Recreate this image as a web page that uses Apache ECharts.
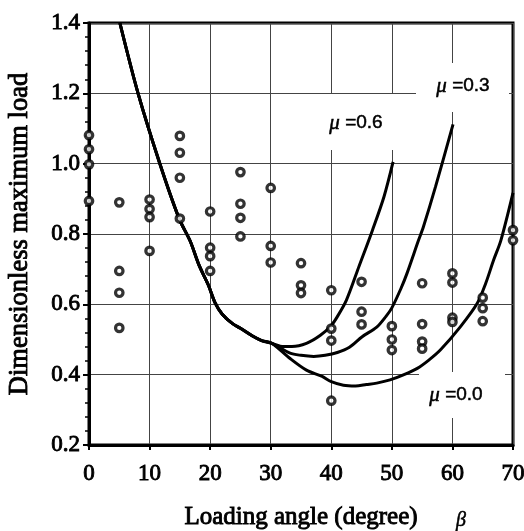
<!DOCTYPE html>
<html>
<head>
<meta charset="utf-8">
<script src="https://cdn.jsdelivr.net/npm/echarts@6/dist/echarts.min.js"></script>
<style>
html,body{margin:0;padding:0;background:#fff;}
#chart{width:524px;height:531px;}
</style>
</head>
<body>
<div id="chart"></div>
<script>
// ---- data ----
const xTickLabels = ['0','10','20','30','40','50','60','70'];
const yTickLabels = ['0.2','0.4','0.6','0.8','1.0','1.2','1.4'];

const obsAngle = [0,0,0,0, 5,5,5,5, 10,10,10,10, 15,15,15,15, 20,20,20,20, 25,25,25,25,
                  30,30,30, 35,35,35, 40,40,40,40, 45,45,45, 50,50,50, 55,55,55,55,
                  60,60,60,60, 65,65,65, 70,70];
const obsLoad  = [1.081,1.041,0.998,0.894, 0.890,0.695,0.633,0.533, 0.898,0.871,0.848,0.752,
                  1.079,1.031,0.960,0.844, 0.864,0.761,0.737,0.695, 0.976,0.886,0.846,0.793,
                  0.931,0.766,0.719, 0.717,0.654,0.632, 0.640,0.531,0.497,0.326,
                  0.664,0.579,0.543, 0.538,0.500,0.470, 0.660,0.544,0.494,0.474,
                  0.688,0.662,0.562,0.550, 0.619,0.589,0.552, 0.811,0.782];

// common branch of all three curves
const sharedAngle = [5.1, 8.1, 11.7, 14.9, 16.7, 18.2, 19.7, 20.8, 22.0, 23.7, 25.0, 27.0, 28.5, 30.2];
const sharedLoad  = [1.40, 1.20, 1.00, 0.843, 0.780, 0.710, 0.655, 0.605, 0.572, 0.545, 0.532, 0.510, 0.497, 0.489];

const mu06Angle = [32.1, 33.5, 35.9, 38.2, 40.0, 41.0, 42.5, 44.6, 46.8, 48.7, 50.2];
const mu06Load  = [0.480, 0.480, 0.489, 0.512, 0.540, 0.565, 0.612, 0.709, 0.811, 0.906, 1.005];

const mu03Angle = [33.2, 35.0, 37.1, 39.0, 41.0, 43.0, 45.1, 47.5, 49.0, 50.0, 51.5, 52.5, 54.4, 55.2, 57.2, 60.1];
const mu03Load  = [0.461, 0.455, 0.452, 0.455, 0.463, 0.478, 0.508, 0.535, 0.565, 0.590, 0.645, 0.688, 0.782, 0.820, 0.934, 1.112];

const mu00Angle = [33.2, 35.9, 38.5, 40.0, 42.0, 44.0, 45.8, 47.5, 49.7, 52.0, 54.2, 56.0, 58.0, 61.3, 64.1, 65.5, 66.8, 68.0, 70.0];
const mu00Load  = [0.446, 0.413, 0.395, 0.380, 0.370, 0.368, 0.372, 0.376, 0.385, 0.400, 0.418, 0.440, 0.470, 0.536, 0.603, 0.660, 0.726, 0.782, 0.917];

const curveNames = ['μ =0.6', 'μ =0.3', 'μ =0.0'];

// ---- build ----
function pairs(xs, ys){ return xs.map((x,i)=>[x, ys[i]]); }
const obsData = pairs(obsAngle, obsLoad);
const shared = pairs(sharedAngle, sharedLoad);
const curves = [
  shared.concat(pairs(mu06Angle, mu06Load)),
  shared.concat(pairs(mu03Angle, mu03Load)),
  shared.concat(pairs(mu00Angle, mu00Load))
];

const serif = "'Liberation Serif','Times New Roman',serif";
const sans = "'Liberation Sans',Arial,sans-serif";

const chart = echarts.init(document.getElementById('chart'), null, {renderer:'canvas'});

const lineSeries = curves.map((d, i) => ({
  type: 'line', name: curveNames[i], data: d, smooth: 0.3, showSymbol: false,
  lineStyle: {color: '#000', width: 3}, z: 3, clip: true, silent: true
}));

function muLabel(cx, cy, bx, by, bw, bh, txt){
  return [
    {type:'rect', z: 1, shape:{x:bx, y:by, width:bw, height:bh}, style:{fill:'#fff'}},
    {type:'text', z: 5, x: cx, y: cy, style:{
      text: '{m|μ}{t| ' + txt + '}',
      align:'center', verticalAlign:'middle',
      rich:{
        m:{fontFamily: serif, fontStyle:'italic', fontSize: 21, fill:'#000', stroke:'#000', lineWidth:0.5},
        t:{fontFamily: sans, fontSize: 19, fill:'#000', stroke:'#000', lineWidth:0.5}
      }
    }}
  ];
}

const txtTitle = {fontFamily: serif, color: '#000', textBorderColor: '#000', textBorderWidth: 0.9};

const option = {
  animation: false,
  backgroundColor: '#fff',
  grid: {left: 89, top: 23, right: 11, bottom: 86, show: true, borderColor: '#000', borderWidth: 3,
         backgroundColor: 'transparent', containLabel: false, outerBoundsMode: 'none'},
  xAxis: {
    type: 'value', min: 0, max: 70, interval: 10,
    name: 'Loading angle (degree)', nameLocation: 'middle', nameGap: 60,
    nameTextStyle: Object.assign({fontSize: 25}, txtTitle),
    axisLine: {show: true, lineStyle: {color: '#000', width: 3}},
    axisTick: {show: true, inside: false, length: 5, lineStyle: {color: '#000', width: 2}},
    axisLabel: Object.assign({fontSize: 23, margin: 17,
      formatter: v => xTickLabels[Math.round(v/10)] ?? ''}, txtTitle),
    splitLine: {show: true, lineStyle: {color: '#444', width: 1}}
  },
  yAxis: {
    type: 'value', min: 0.2, max: 1.4, interval: 0.2,
    name: 'Dimensionless maximum load', nameLocation: 'middle', nameGap: 55,
    nameTextStyle: Object.assign({fontSize: 26.5}, txtTitle),
    axisLine: {show: true, lineStyle: {color: '#000', width: 3}},
    axisTick: {show: true, inside: false, length: 6, lineStyle: {color: '#000', width: 2}},
    minorTick: {show: true, splitNumber: 5, length: 4, lineStyle: {color: '#000', width: 1.5}},
    axisLabel: Object.assign({fontSize: 23, margin: 9,
      formatter: v => yTickLabels[Math.round((v-0.2)/0.2)] ?? ''}, txtTitle),
    splitLine: {show: true, lineStyle: {color: '#444', width: 1}}
  },
  graphic: [
    ...muLabel(356, 123, 322, 94, 76, 56, '=0.6'),
    ...muLabel(463, 86, 416, 63, 93, 49, '=0.3'),
    ...muLabel(456, 395, 419, 372, 86, 46, '=0.0'),
    {type:'text', z: 5, x: 461, y: 521, style:{text:'β', fontFamily: serif, fontStyle:'italic', fontSize: 20, fill:'#000', stroke:'#000', lineWidth:0.5, align:'center', verticalAlign:'middle'}}
  ],
  series: [
    ...lineSeries,
    {
      type: 'scatter', name: 'measured', data: obsData, symbol: 'circle', symbolSize: 7.5,
      itemStyle: {color: '#fff', borderColor: '#000', borderWidth: 3.2}, z: 4, clip: false, silent: true
    }
  ]
};
chart.setOption(option);
</script>
</body>
</html>
